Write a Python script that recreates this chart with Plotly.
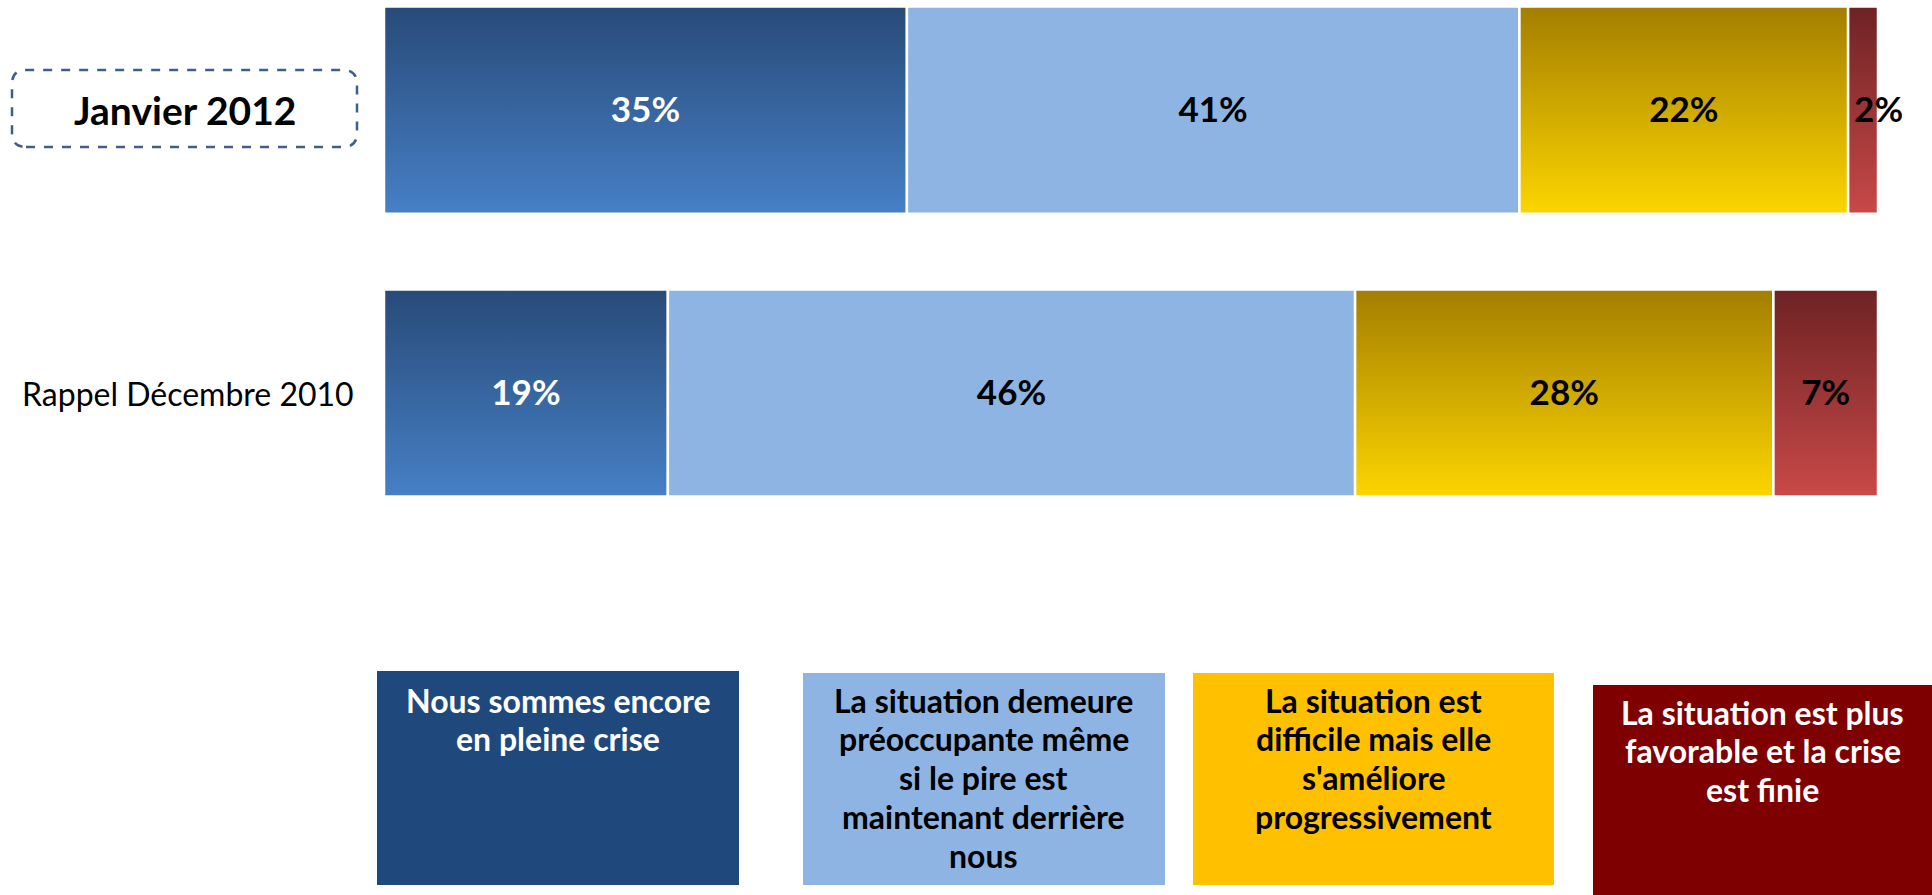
import plotly.graph_objects as go

# ---- data ----
periods = ["Janvier 2012", "Rappel Décembre 2010"]
answers = [
    "Nous sommes encore en pleine crise",
    "La situation demeure préoccupante même si le pire est maintenant derrière nous",
    "La situation est difficile mais elle s'améliore progressivement",
    "La situation est plus favorable et la crise est finie",
]
values_2012 = [35, 41, 22, 2]
values_2010 = [19, 46, 28, 7]
legend_lines = [
    ["Nous sommes encore", "en pleine crise"],
    ["La situation demeure", "préoccupante même", "si le pire est", "maintenant derrière", "nous"],
    ["La situation est", "difficile mais elle", "s'améliore", "progressivement"],
    ["La situation est plus", "favorable et la crise", "est finie"],
]

# ---- style ----
W, H = 1932, 895
FONT = "Lato"
grad = [  # (bottom, top)
    ("#4680C6", "#284A78"),
    ("#8EB4E3", "#8EB4E3"),
    ("#FCD500", "#A37E00"),
    ("#C84948", "#6E2224"),
]
label_colors = ["white", "black", "black", "black"]
legend_fill = ["#1F497D", "#8DB4E2", "#FFC000", "#7F0000"]
legend_text_col = ["white", "black", "black", "white"]
legend_px = [(377, 739, 671, 885), (803, 1165, 673, 885), (1193, 1554, 673, 885), (1593, 1932, 685, 895)]
legend_first_line = [700, 700, 700, 712]
LINE_STEP = 38.8

ypos = [1, 0]
half = 0.366

fig = go.Figure()
for yi, vals in zip(ypos, [values_2012, values_2010]):
    start = 0
    for k, v in enumerate(vals):
        end = start + v
        b, t = grad[k]
        fig.add_trace(go.Scatter(
            x=[start, end, end, start, start],
            y=[yi - half, yi - half, yi + half, yi + half, yi - half],
            mode="lines", fill="toself",
            fillgradient=dict(type="vertical", colorscale=[[0, b], [1, t]]),
            line=dict(color="white", width=2.5),
            hoverinfo="skip", showlegend=False, name=answers[k],
        ))
        small = v < 5
        fig.add_trace(go.Scatter(
            x=[start + 0.4 if small else (start + end) / 2], y=[yi - 0.012],
            mode="text", text=[f"{v}%"],
            textposition="middle right" if small else "middle center",
            textfont=dict(family=FONT, size=35, color=label_colors[k], weight="bold"),
            hoverinfo="skip", showlegend=False, cliponaxis=False,
        ))
        start = end

fig.update_xaxes(range=[0, 100], domain=[384 / W, 1878 / W], visible=False, fixedrange=True)
fig.update_yaxes(range=[-1.774, 1.389], domain=[0, 1], visible=False, fixedrange=True)

# category labels
fig.add_annotation(x=185 / W, y=1 - 110 / H, xref="paper", yref="paper", text="<b>Janvier 2012</b>",
                   showarrow=False, xanchor="center", yanchor="middle",
                   font=dict(family=FONT, size=39, color="black"))
fig.add_annotation(x=356 / W, y=1 - 393 / H, xref="paper", yref="paper", text="Rappel Décembre 2010",
                   showarrow=False, xanchor="right", yanchor="middle",
                   font=dict(family=FONT, size=32, color="black"))

# dashed rounded box
x0, x1, y0, y1 = 12 / W, 357 / W, 1 - 147 / H, 1 - 70 / H
rx, ry = 14 / W, 14 / H
path = (f"M {x0+rx},{y0} L {x1-rx},{y0} Q {x1},{y0} {x1},{y0+ry} L {x1},{y1-ry} "
        f"Q {x1},{y1} {x1-rx},{y1} L {x0+rx},{y1} Q {x0},{y1} {x0},{y1-ry} "
        f"L {x0},{y0+ry} Q {x0},{y0} {x0+rx},{y0} Z")
fig.add_shape(type="path", path=path, xref="paper", yref="paper",
              line=dict(color="#3C5F8E", width=2.5, dash="dash"))

# legend boxes
for k in range(4):
    a, b, t, bt = legend_px[k]
    fig.add_shape(type="rect", xref="paper", yref="paper",
                  x0=a / W, x1=b / W, y0=1 - bt / H, y1=1 - t / H,
                  fillcolor=legend_fill[k], line=dict(width=0), layer="below")
    for i, line in enumerate(legend_lines[k]):
        yc = legend_first_line[k] + i * LINE_STEP
        fig.add_annotation(x=(a + b) / 2 / W, y=1 - yc / H, xref="paper", yref="paper",
                           yanchor="middle", xanchor="center", text=f"<b>{line}</b>",
                           showarrow=False, align="center",
                           font=dict(family=FONT, size=32, color=legend_text_col[k]))

fig.update_layout(width=W, height=H, margin=dict(l=0, r=0, t=0, b=0),
                  plot_bgcolor="white", paper_bgcolor="white")
fig.write_html("out.html", config={"displayModeBar": False, "staticPlot": True},
               post_script="document.body.style.margin='0';document.body.style.overflow='hidden';")
